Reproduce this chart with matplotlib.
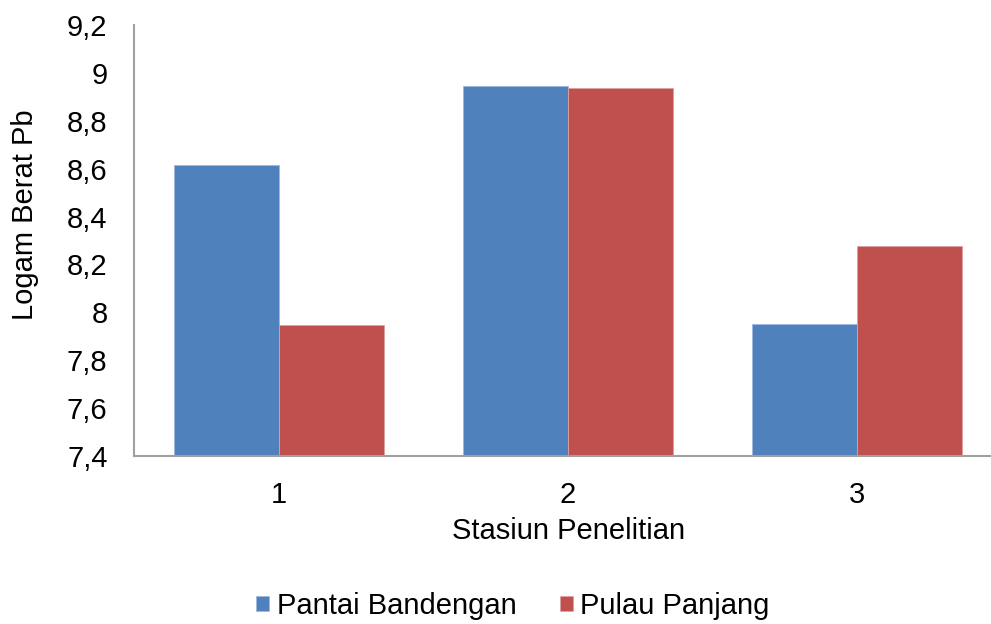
import matplotlib.pyplot as plt
import numpy as np

# Kandungan logam berat Pb per stasiun
stasiun = ["1", "2", "3"]
pantai_bandengan = [8.615, 8.945, 7.951]
pulau_panjang = [7.947, 8.937, 8.277]
yticks = [7.4, 7.6, 7.8, 8.0, 8.2, 8.4, 8.6, 8.8, 9.0, 9.2]
ytick_labels = ["7,4", "7,6", "7,8", "8", "8,2", "8,4", "8,6", "8,8", "9", "9,2"]

plt.rcParams['font.family'] = ['Liberation Sans', 'DejaVu Sans']

fig = plt.figure(figsize=(9.91, 6.24), dpi=100)
ax = fig.add_axes([134 / 991, 1 - 456 / 624, 868 / 991, 431 / 624])

x = np.arange(len(stasiun))
w = 0.363
ax.bar(x - w / 2, pantai_bandengan, w, color="#4F81BD", label="Pantai Bandengan",
       edgecolor="#9DB9DE", linewidth=0.6)
ax.bar(x + w / 2, pulau_panjang, w, color="#C0504D", label="Pulau Panjang",
       edgecolor="#E0A09E", linewidth=0.6)

ax.set_xlim(-0.5, 2.5)
ax.set_ylim(7.4, 9.2)
ax.set_yticks(yticks)
ax.set_yticklabels(ytick_labels)
ax.set_xticks(x)
ax.set_xticklabels(stasiun)
ax.tick_params(axis="both", length=0, labelsize=21)
ax.tick_params(axis="y", pad=19)
ax.tick_params(axis="x", pad=18)

for s in ["top", "right"]:
    ax.spines[s].set_visible(False)
for s in ["left", "bottom"]:
    ax.spines[s].set_color("#A0A0A0")
    ax.spines[s].set_linewidth(1.5)

fig.text(25 / 991, 1 - 215 / 624, "Logam Berat Pb", rotation=90, fontsize=21,
         ha="center", va="center")
fig.text(569 / 991, 1 - 531 / 624, "Stasiun Penelitian", fontsize=21,
         ha="center", va="center")

fig.legend(loc="center", bbox_to_anchor=(513 / 991, 1 - 606 / 624), ncol=2,
           frameon=False, fontsize=21, handlelength=0.45, handleheight=0.45,
           handletextpad=0.25, columnspacing=1.5)

fig.savefig("out.png", dpi=100)
